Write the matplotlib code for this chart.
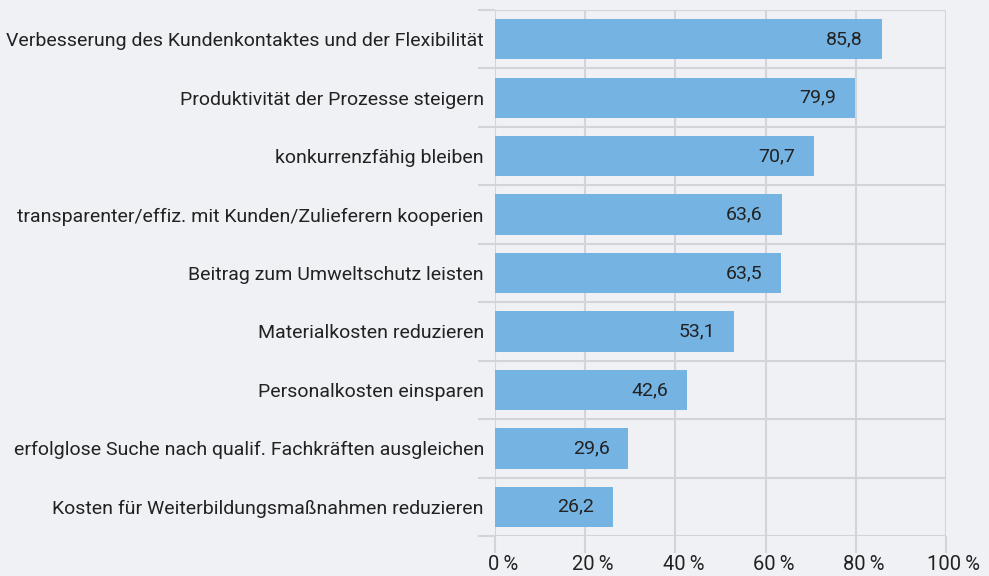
import matplotlib

matplotlib.use("Agg")
import matplotlib.pyplot as plt
import numpy as np
from matplotlib.ticker import FixedLocator
from matplotlib.transforms import ScaledTranslation

# Data
categories = [
    "Verbesserung des Kundenkontaktes und der Flexibilität",
    "Produktivität der Prozesse steigern",
    "konkurrenzfähig bleiben",
    "transparenter/effiz. mit Kunden/Zulieferern kooperien",
    "Beitrag zum Umweltschutz leisten",
    "Materialkosten reduzieren",
    "Personalkosten einsparen",
    "erfolglose Suche nach qualif. Fachkräften ausgleichen",
    "Kosten für Weiterbildungsmaßnahmen reduzieren",
]
values = [85.8, 79.9, 70.7, 63.6, 63.5, 53.1, 42.6, 29.6, 26.2]
xticks = [0, 20, 40, 60, 80, 100]
xtick_labels = ["0\u2009%", "20\u2009%", "40\u2009%", "60\u2009%", "80\u2009%", "100\u2009%"]

bg = "#f0f1f5"
bar_color = "#75b3e3"
grid_color = "#d3d4d9"
text_color = "#222222"

plt.rcParams["font.family"] = ["Roboto", "DejaVu Sans"]

fig = plt.figure(figsize=(9.89, 5.76), dpi=100, facecolor=bg)
ax = fig.add_axes([0.5005, 0.0694, 0.456, 0.9132], facecolor=bg)

y = np.arange(len(categories))
ax.barh(y, values, height=0.69, color=bar_color, zorder=3)

for yi, v in zip(y, values):
    ax.text(v - 4.2, yi, f"{v:.1f}".replace(".", ","), ha="right", va="center",
            fontsize=14, color=text_color, zorder=4)

ax.set_xlim(0, 100)
ax.set_ylim(len(categories) - 0.5, -0.5)

ax.set_xticks(xticks)
ax.set_xticklabels(xtick_labels, fontsize=14.5, color=text_color)
ax.set_yticks(y)
ax.set_yticklabels(categories, fontsize=14, color=text_color)
ax.yaxis.set_minor_locator(FixedLocator(np.arange(-0.5, len(categories), 1.0)))

ax.tick_params(axis="x", length=12, width=1.5, color=grid_color, pad=2)
ax.tick_params(axis="y", which="major", length=0, pad=8)
ax.tick_params(axis="y", which="minor", length=12, width=1.5, color=grid_color)

# percent labels sit a bit right of their ticks in the original
shift = ScaledTranslation(8 / 100, 0, fig.dpi_scale_trans)
for lbl in ax.get_xticklabels():
    lbl.set_transform(lbl.get_transform() + shift)

ax.grid(axis="x", color=grid_color, linewidth=1.5, zorder=0)
ax.grid(axis="y", which="minor", color=grid_color, linewidth=1.5, zorder=0)
for s in ax.spines.values():
    s.set_visible(False)

fig.savefig("out.png", dpi=100, facecolor=bg)
